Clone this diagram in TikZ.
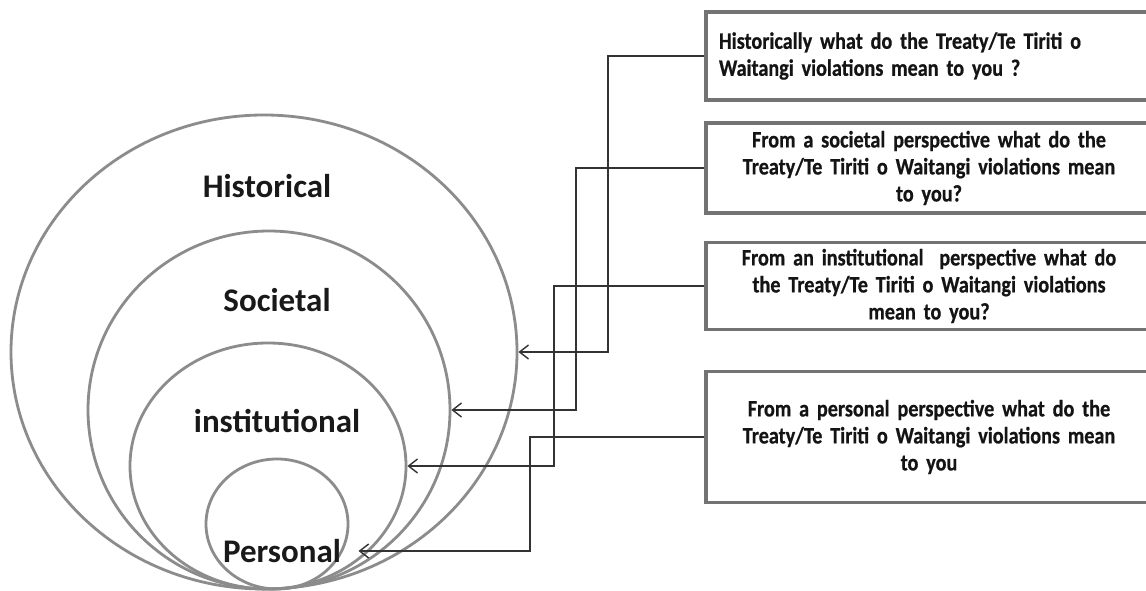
\documentclass[tikz,border=0pt]{standalone}
\usepackage{fontspec}
\setmainfont{Carlito}
\newfontfamily\boxfont[FakeStretch=0.86, WordSpace=0.5, FakeBold=0.6]{Carlito}
\usepackage{tikz}
\usetikzlibrary{
    positioning,
    arrows.meta,
    shapes.geometric,
}
\tikzset{
    % Ring styles
    ring/.style={ellipse, draw=gray!90, line width=2.8pt, inner sep=0pt},
    ring label/.style={font=\fontsize{33}{36}\selectfont\bfseries, text=black!90},
    % Question boxes
    qbox/.style={rectangle, draw=black!55, line width=3.8pt, inner xsep=13pt,
                 text width=420pt, minimum width=446pt, align=center,
                 font=\boxfont\fontsize{23.5}{27}\selectfont\bfseries, text=black!92},
    % Connector styles
    link/.style={draw=black!80, line width=1.4pt,
                 -{Straight Barb[length=9pt,width=14pt]}},
}

\begin{document}
\begin{tikzpicture}[x=1pt, y=-1pt]
    \useasboundingbox[fill=white] (0,0) rectangle (1146,591);

    % Nested rings
    \node[ring, minimum width=506pt, minimum height=474pt] (hist) at (264,352) {};
    \node[ring, minimum width=362pt, minimum height=358pt] (soc) at (269,410) {};
    \node[ring, minimum width=276pt, minimum height=246pt] (inst) at (268,466) {};
    \node[ring, minimum width=142pt, minimum height=130pt] (pers) at (277,524) {};

    % Ring labels
    \node[ring label] (hlab) at (267,186) {Historical};
    \node[ring label] (slab) at (277,300) {Societal};
    \node[ring label] (ilab) at (277,421) {institutional};
    \node[ring label] (plab) at (282,551) {Personal};

    % Question boxes
    \node[qbox, align=left, minimum height=88pt] (q1) at (929,56)
        {Historically what do the Treaty/Te Tiriti o\\Waitangi violations mean to you ?};
    \node[qbox, minimum height=90pt] (q2) at (929,168)
        {From a societal perspective what do the\\Treaty/Te Tiriti o Waitangi violations mean\\to you?};
    \node[qbox, minimum height=87pt] (q3) at (929,286)
        {From an institutional\ \ perspective what do\\the Treaty/Te Tiriti o Waitangi violations\\mean to you?};
    \node[qbox, minimum height=131pt] (q4) at (929,437)
        {From a personal perspective what do the\\Treaty/Te Tiriti o Waitangi violations mean\\to you};

    % Connectors
    \draw[link] (q1.west) -- ++(-96,0) |- (hist.east);
    \draw[link] (q2.west) -- ++(-128,0) |- (soc.east);
    \draw[link] (q3.west) -- ++(-150,0) |- (inst.east);
    \draw[link] (q4.west) -- ++(-174,0) |- ([xshift=14pt]plab.east);
\end{tikzpicture}
\end{document}
